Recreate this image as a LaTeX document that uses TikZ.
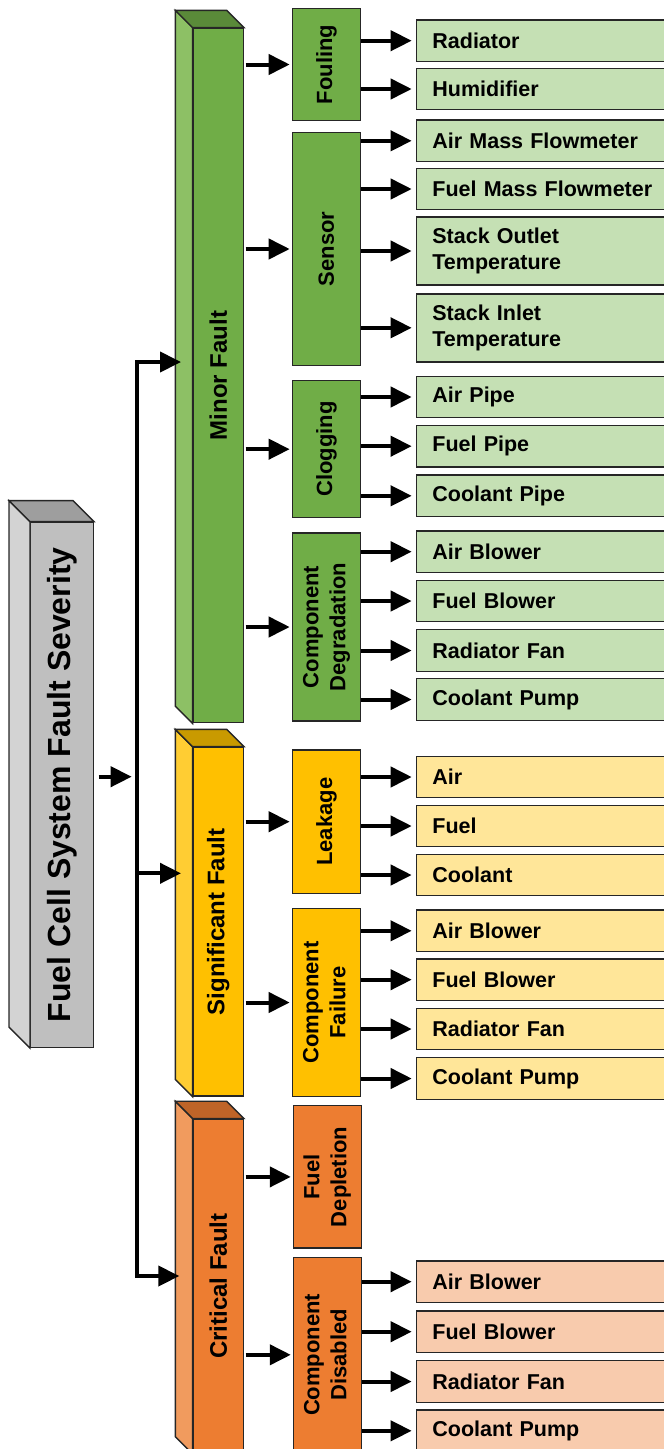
\documentclass[tikz,border=0pt]{standalone}
\usepackage{fontspec}
\setmainfont{Liberation Sans}
\usepackage{graphicx}
\usetikzlibrary{arrows.meta,calc}

\definecolor{edge}{HTML}{262626}
\definecolor{gfront}{HTML}{70AD47}
\definecolor{gside}{HTML}{8DC065}
\definecolor{gtop}{HTML}{5A8A39}
\definecolor{gleaf}{HTML}{C5E0B4}
\definecolor{yfront}{HTML}{FFC000}
\definecolor{yside}{HTML}{FFCD33}
\definecolor{ytop}{HTML}{C99A00}
\definecolor{yleaf}{HTML}{FFE699}
\definecolor{ofront}{HTML}{ED7D31}
\definecolor{oside}{HTML}{F19B5E}
\definecolor{otop}{HTML}{BF6428}
\definecolor{oleaf}{HTML}{F8CBAD}
\definecolor{kfront}{HTML}{BFBFBF}
\definecolor{kside}{HTML}{D3D3D3}
\definecolor{ktop}{HTML}{9E9E9E}

% side and top faces of a prism whose front face is node #1
\newcommand{\boxfaces}[4]{%
  \draw[box, fill=#3] (#1.north west) -- ++(-#2,-#2)
    -- ($(#1.south west)+(-#2,-#2)$) -- (#1.south west) -- cycle;
  \draw[box, fill=#4] (#1.north west) -- ++(-#2,-#2)
    -- ($(#1.north east)+(-#2,-#2)$) -- (#1.north east) -- cycle;}

\begin{document}
\begin{tikzpicture}[x=1pt,y=-1pt,
  box/.style={draw=edge, line width=1.4pt, line join=miter, inner sep=0pt},
  leaf/.style={box, anchor=west, minimum height=41.5pt, text width=220pt,
    inner xsep=16pt, align=left, font=\bfseries\fontsize{21.5}{25.5}\selectfont},
  tallleaf/.style={leaf, minimum height=68pt},
  mid/.style={box, minimum width=68pt, font=\bfseries\fontsize{22}{27}\selectfont},
  blk/.style={box, minimum width=50pt, font=\bfseries\fontsize{24}{29}\selectfont},
  arr/.style={line width=4pt, -{Triangle[length=21pt,width=20pt]}},
  leafarr/.style={arr, shorten >=4pt},
  midarr/.style={arr, shorten >=2pt},
]
\clip (0,0) rectangle (664,1449);

% root prism
\node[box, fill=kfront, minimum width=62.6pt, minimum height=525pt,
  font=\bfseries\fontsize{32}{38}\selectfont] (root) at (62,784.8)
  {\rotatebox{90}{Fuel Cell System Fault Severity}};
\boxfaces{root}{21}{kside}{ktop}

% severity prisms
\node[blk, fill=gfront, minimum height=694.4pt] (minor) at (218.3,375.5) {\rotatebox{90}{Minor Fault}};
\boxfaces{minor}{17.3}{gside}{gtop}
\node[blk, fill=yfront, minimum height=348.7pt] (sig) at (218.3,921.7) {\rotatebox{90}{Significant Fault}};
\boxfaces{sig}{17.3}{yside}{ytop}
\node[blk, fill=ofront, minimum height=334pt] (crit) at (218.3,1286.2) {\rotatebox{90}{Critical Fault}};
\boxfaces{crit}{17.3}{oside}{otop}

% fault categories
\node[mid, fill=gfront, minimum height=112.4pt] (foul) at (326.4,64.5) {\rotatebox{90}{Fouling}};
\node[mid, fill=gfront, minimum height=233.4pt] (sens) at (326.4,249) {\rotatebox{90}{Sensor}};
\node[mid, fill=gfront, minimum height=137pt] (clog) at (326.4,449.2) {\rotatebox{90}{Clogging}};
\node[mid, fill=gfront, minimum height=188pt] (cdeg) at (326.4,627) {\rotatebox{90}{\begin{tabular}{@{}c@{}}Component\\Degradation\end{tabular}}};
\node[mid, fill=yfront, minimum height=143.3pt] (leak) at (326.4,821.7) {\rotatebox{90}{Leakage}};
\node[mid, fill=yfront, minimum height=188.4pt] (cfail) at (326.4,1002.5) {\rotatebox{90}{\begin{tabular}{@{}c@{}}Component\\Failure\end{tabular}}};
\node[mid, fill=ofront, minimum height=142.3pt] (fdep) at (327.5,1176.9) {\rotatebox{90}{\begin{tabular}{@{}c@{}}Fuel\\Depletion\end{tabular}}};
\node[mid, fill=ofront, minimum height=195pt] (cdis) at (327.5,1354.8) {\rotatebox{90}{\begin{tabular}{@{}c@{}}Component\\Disabled\end{tabular}}};

% components
\node[leaf, fill=gleaf] (m1) at (415.7,40.7) {Radiator};
\node[leaf, fill=gleaf] (m2) at (415.7,89) {Humidifier};
\node[leaf, fill=gleaf] (m3) at (415.7,140.8) {Air Mass Flowmeter};
\node[leaf, fill=gleaf] (m4) at (415.7,189) {Fuel Mass Flowmeter};
\node[tallleaf, fill=gleaf] (m5) at (415.7,251) {Stack Outlet\\Temperature};
\node[tallleaf, fill=gleaf] (m6) at (415.7,327.8) {Stack Inlet\\Temperature};
\node[leaf, fill=gleaf] (m7) at (415.7,397) {Air Pipe};
\node[leaf, fill=gleaf] (m8) at (415.7,446.2) {Fuel Pipe};
\node[leaf, fill=gleaf] (m9) at (415.7,495.8) {Coolant Pipe};
\node[leaf, fill=gleaf] (m10) at (415.7,551.7) {Air Blower};
\node[leaf, fill=gleaf] (m11) at (415.7,601) {Fuel Blower};
\node[leaf, fill=gleaf] (m12) at (415.7,650.5) {Radiator Fan};
\node[leaf, fill=gleaf] (m13) at (415.7,699.5) {Coolant Pump};

\node[leaf, fill=yleaf] (s1) at (415.7,777) {Air};
\node[leaf, fill=yleaf] (s2) at (415.7,826) {Fuel};
\node[leaf, fill=yleaf] (s3) at (415.7,875) {Coolant};
\node[leaf, fill=yleaf] (s4) at (415.7,930.8) {Air Blower};
\node[leaf, fill=yleaf] (s5) at (415.7,979.7) {Fuel Blower};
\node[leaf, fill=yleaf] (s6) at (415.7,1029) {Radiator Fan};
\node[leaf, fill=yleaf] (s7) at (415.7,1078.5) {Coolant Pump};

\node[leaf, fill=oleaf] (c1) at (415.7,1281.7) {Air Blower};
\node[leaf, fill=oleaf] (c2) at (415.7,1331.7) {Fuel Blower};
\node[leaf, fill=oleaf] (c3) at (415.7,1381.5) {Radiator Fan};
\node[leaf, fill=oleaf] (c4) at (415.7,1430.8) {Coolant Pump};

% trunk from the root to the three severity levels
\coordinate (ttop) at (137,362);
\coordinate (tsig) at (137,873.3);
\coordinate (tbot) at (137,1276);
\coordinate (rootin) at (137,776.7);
\draw[line width=4pt, {Triangle[length=21pt,width=20pt]}-{Triangle[length=21pt,width=20pt]}]
  ([xshift=-11.6pt]minor.west |- ttop) -- (ttop) -- (tbot) -- ([xshift=-13.3pt]crit.west |- tbot);
\draw[arr] (tsig) -- ([xshift=-11.6pt]sig.west |- tsig);
\draw[arr, shorten <=4.7pt, shorten >=5.3pt] (root.east |- rootin) -- (rootin);

% severity to category
\foreach \b/\m in {minor/foul, minor/sens, minor/clog, minor/cdeg, sig/leak, sig/cfail, crit/fdep, crit/cdis}
  \draw[midarr, shorten <=1.5pt] (\b.east |- \m.west) -- (\m.west);

% category to component
\foreach \m/\l in {foul/m1, foul/m2, sens/m3, sens/m4, sens/m5, sens/m6,
    clog/m7, clog/m8, clog/m9, cdeg/m10, cdeg/m11, cdeg/m12, cdeg/m13,
    leak/s1, leak/s2, leak/s3, cfail/s4, cfail/s5, cfail/s6, cfail/s7,
    cdis/c1, cdis/c2, cdis/c3, cdis/c4}
  \draw[leafarr] (\m.east |- \l.west) -- (\l.west);
\end{tikzpicture}
\end{document}
